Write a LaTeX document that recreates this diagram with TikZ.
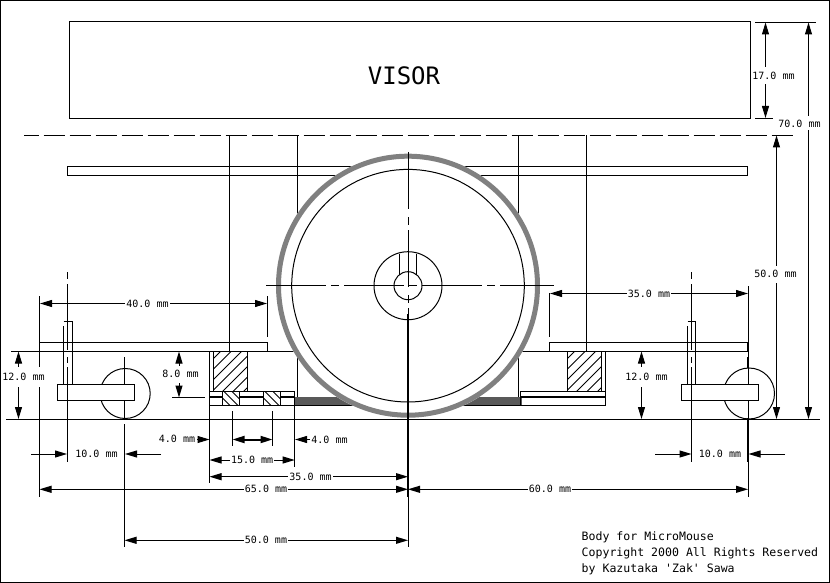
\documentclass[tikz,border=0pt]{standalone}
\usepackage{fontspec}
\usetikzlibrary{arrows.meta}
\newfontfamily\drawfont{DejaVu Sans Mono}
\tikzset{
  line/.style={line width=1pt,black,line cap=butt},
  thick line/.style={line width=2pt,black},
  dim/.style={line width=1pt,black,{Triangle[length=12pt,width=7pt]}-{Triangle[length=12pt,width=7pt]}},
  tipend/.style={line width=1pt,black,-{Triangle[length=12pt,width=7pt]}},
  dimtext/.style={font=\drawfont\fontsize{10}{10}\selectfont,fill=white,inner sep=1pt,text=black},
  vlabel/.style={dimtext,minimum height=17pt},
  note/.style={font=\drawfont\fontsize{11.55}{11.55}\selectfont,anchor=west,inner sep=0pt,text=black},
  box/.style={line width=1pt,draw=black,fill=white},
  tiremesh/.style={fill=black!50,even odd rule},
  stripmesh/.style={fill=black!65},
}
\begin{document}
\begin{tikzpicture}[x=1pt,y=-1pt]
\useasboundingbox (0,0) rectangle (830,583);
\fill[white] (0,0) rectangle (830,583);
% sheet frame
\draw[line] (.7,.7) rectangle (829.3,582.3);

% visor and plate
\draw[line] (69.5,21.5) rectangle (750.5,118.5);
\node[font=\drawfont\fontsize{24}{24}\selectfont,text=black] (visor) at (404,75.5) {VISOR};
\draw[line,dash pattern=on 21.5pt off 4.5pt,dash phase=6.5pt] (24,135.5) -- (795,135.5);
\draw[line] (67.5,166.5) rectangle (747.5,175.5);

% uprights
\draw[line] (229.5,135.5) -- (229.5,351.5);
\draw[line] (297.5,135.5) -- (297.5,260);
\draw[line] (518.5,135.5) -- (518.5,260);
\draw[line] (586.5,135.5) -- (586.5,351.5);

% chassis plates
\draw[line] (39.5,342.5) -- (267,342.5) -- (267,351.5);
\draw[line] (549.5,351.5) -- (549.5,342.5) -- (748,342.5);
\draw[line] (11,351.5) -- (748,351.5);

% left lower board
\fill[stripmesh] (294.7,396.7) rectangle (522,405.5);
\draw[line] (209.5,391.5) rectangle (294.7,405.5);
\draw[thick line] (209.5,396.8) -- (294.7,396.8);
\draw[line] (297.7,340) -- (297.7,397);
% right lower board
\draw[line] (520.5,391.5) rectangle (605.5,405.5);
\draw[thick line] (520.5,396.8) -- (605.5,396.8);
\draw[line] (518.3,340) -- (518.3,397);
\draw[line] (294.7,405.5) -- (520.5,405.5);
% spacers
\draw[box] (213.5,351.5) rectangle (247.7,391.5);
\draw[box] (567.7,351.5) rectangle (601.7,391.5);
\begin{scope}
  \clip (213.5,351.5) rectangle (247.7,391.5);
  \foreach \s in {170,180.5,...,260} \draw[line width=.8pt] (\s,391.5) -- (\s+40,351.5);
\end{scope}
\begin{scope}
  \clip (567.7,351.5) rectangle (601.7,391.5);
  \foreach \s in {524,534.5,...,614} \draw[line width=.8pt] (\s,391.5) -- (\s+40,351.5);
\end{scope}
\draw[line] (209.5,351.5) -- (209.5,391.5);
\draw[line] (605.5,351.5) -- (605.5,391.5);
\draw[box] (222.5,391.5) rectangle (239.5,405.5);
\draw[box] (263.5,391.5) rectangle (280.7,405.5);
\begin{scope}
  \clip (222.5,391.5) rectangle (239.5,405.5);
  \foreach \s in {200,208,...,246} \draw[line width=.8pt] (\s,391.5) -- (\s+14,405.5);
\end{scope}
\begin{scope}
  \clip (263.5,391.5) rectangle (280.7,405.5);
  \foreach \s in {241,249,...,287} \draw[line width=.8pt] (\s,391.5) -- (\s+14,405.5);
\end{scope}

% main wheel
\fill[white] (408,285.7) circle [radius=132];
\fill[tiremesh] (408,285.7) circle [radius=132] (408,285.7) circle [radius=127];
\draw[line] (408,285.7) circle [radius=116.3];
\draw[line] (408,285.7) circle [radius=34];
\draw[line] (408,285.7) circle [radius=14];
\draw[line] (399.5,253.5) -- (399.5,274.5);
\draw[line] (416.5,253.5) -- (416.5,274.5);

% ground line
\draw[line] (6,419.5) -- (820,419.5);

% wheel centre lines
\draw[line,dash pattern=on 60pt off 5pt on 8pt off 5pt] (266,285.5) -- (554,285.5);
\draw[line,dash pattern=on 57pt off 8pt on 8pt off 5pt] (408,152) -- (408,314);
\draw[thick line] (408,314) -- (408,497);
\draw[line] (408,497) -- (408,547);

% side wheels
\draw[line] (125.2,393.5) circle [radius=25];
\draw[line] (124.5,357) -- (124.5,418.5);
\draw[line] (124.5,424) -- (124.5,547);
\draw[box] (57.5,384.5) rectangle (134.7,400.5);
\draw[line] (749,393.5) circle [radius=25.5];
\draw[line] (748,351.5) -- (748,418);
\draw[box] (681.5,384.5) rectangle (758.5,400.5);

% posts
\draw[line] (63.5,384.5) -- (63.5,326);
\draw[line] (63.5,321.5) -- (72.5,321.5) -- (72.5,384.5);
\draw[line] (687.5,384.5) -- (687.5,326);
\draw[line] (687.5,321.5) -- (695.5,321.5) -- (695.5,384.5);
\draw[line] (67.5,272) -- (67.5,279) (67.5,284) -- (67.5,350) (67.5,357) -- (67.5,363) (67.5,367) -- (67.5,462);
\draw[line] (691.5,272) -- (691.5,279) (691.5,284) -- (691.5,350) (691.5,357) -- (691.5,363) (691.5,367) -- (691.5,462);

% extension lines
\draw[line] (39.5,296) -- (39.5,497);
\draw[line] (267,296) -- (267,337);
\draw[line] (549.5,293) -- (549.5,337);
\draw[line] (748,286) -- (748,342);
\draw[thick line] (748,342) -- (748,351.5);
\draw[thick line] (748,357) -- (748,368);
\draw[thick line] (748,418) -- (748,462);
\draw[line] (748,462) -- (748,497);
\draw[line] (209.5,405.5) -- (209.5,483);
\draw[line] (294.7,405.5) -- (294.7,467);
\draw[line] (232.5,411) -- (232.5,446);
\draw[line] (272.5,411) -- (272.5,446);
\draw[line] (755,22.5) -- (816,22.5);
\draw[line] (755,118.5) -- (773,118.5);
\draw[line] (172,397.5) -- (205,397.5);

% dimensions, vertical
\draw[dim] (765.5,22.5) -- (765.5,118);
\node[vlabel] (d17) at (773.5,75.5) {17.0 mm};
\draw[dim] (808.5,22.5) -- (808.5,419);
\node[vlabel,minimum height=14pt] (d70) at (799.5,123.5) {70.0 mm};
\draw[dim] (776.5,135.5) -- (776.5,419);
\node[vlabel] (d50) at (775.5,274) {50.0 mm};
\draw[dim] (18.5,351.5) -- (18.5,419);
\node[vlabel,minimum height=20pt] (d12l) at (23.5,377) {12.0 mm};
\draw[dim] (179,351.5) -- (179,397.5);
\node[vlabel] (d8) at (180.5,374) {8.0 mm};
\draw[dim] (641.5,351.5) -- (641.5,419);
\node[vlabel,minimum height=20pt] (d12r) at (646.5,377) {12.0 mm};

% dimensions, horizontal
\draw[dim] (40,303.5) -- (267,303.5) node[dimtext,pos=.4736] (d40) {40.0 mm};
\draw[dim] (550,293.5) -- (748,293.5) node[dimtext,pos=.5] (d35r) {35.0 mm};
\draw[dim,line width=2pt] (232.5,439.5) -- (272.5,439.5);
\draw[dim] (209.5,460) -- (294.7,460) node[dimtext,midway] (d15) {15.0 mm};
\draw[dim] (209.5,476.7) -- (408,476.7) node[dimtext,pos=.509] (d35l) {35.0 mm};
\draw[dim] (39.5,489.3) -- (408,489.3) node[dimtext,pos=.6147] (d65) {65.0 mm};
\draw[dim] (408,489.3) -- (748,489.3) node[dimtext,pos=.4176] (d60) {60.0 mm};
\draw[dim] (124.5,540.3) -- (408,540.3) node[dimtext,pos=.499] (d50b) {50.0 mm};

% dimensions with outside arrows
\draw[tipend] (31,454) -- (67,454);
\draw[tipend] (161,454) -- (125,454);
\node[dimtext] (d10l) at (96.5,454) {10.0 mm};
\draw[tipend] (655,454) -- (691.5,454);
\draw[tipend] (785,454) -- (748.5,454);
\node[dimtext] (d10r) at (720,454) {10.0 mm};
\draw[tipend] (197,439.5) -- (209.5,439.5);
\node[dimtext,fill=none] (d4l) at (177,439) {4.0 mm};
\draw[tipend] (310,439.5) -- (295,439.5);
\node[dimtext,fill=none] (d4r) at (329.5,439.5) {4.0 mm};

% title block
\node[note] (t1) at (581.5,537) {Body for MicroMouse};
\node[note] (t2) at (581.5,553) {Copyright 2000 All Rights Reserved};
\node[note] (t3) at (581.5,569) {by Kazutaka 'Zak' Sawa};
\end{tikzpicture}
\end{document}
